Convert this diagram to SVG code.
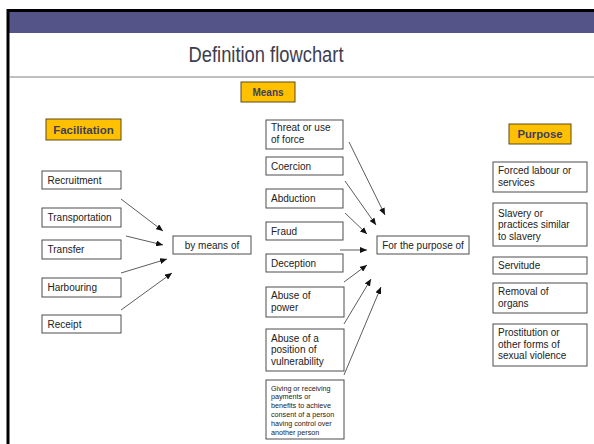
<svg xmlns="http://www.w3.org/2000/svg" width="594" height="444" viewBox="0 0 594 444">
<defs>
<style>
.box{fill:#fff;stroke:#4d4d4d;stroke-width:1}
.hdr{fill:#ffc000;stroke:#5a4a1a;stroke-width:1}
.t{font-family:"Liberation Sans",Arial,sans-serif;font-size:10px;fill:#222}
.s{font-family:"Liberation Sans",Arial,sans-serif;font-size:7.2px;fill:#222}
.h{font-family:"Liberation Sans",Arial,sans-serif;font-weight:bold;fill:#3f3f5c;text-anchor:middle}
.c{text-anchor:middle}
.ln{stroke:#333;stroke-width:0.8;fill:none;marker-end:url(#ah)}
</style>
<marker id="ah" markerUnits="userSpaceOnUse" markerWidth="8" markerHeight="6" refX="7" refY="3" orient="auto">
<path d="M0,0 L7,3 L0,6 z" fill="#111"/>
</marker>
</defs>
<rect x="0" y="0" width="594" height="444" fill="#fff"/>
<rect x="9" y="12" width="585" height="21" fill="#545489"/>
<path d="M8 444 V10.5 H594" fill="none" stroke="#000" stroke-width="3"/>
<line x1="9.5" y1="77" x2="594" y2="77" stroke="#808080" stroke-width="1"/>
<text x="266" y="62" font-family="'Liberation Sans',Arial,sans-serif" font-size="22.5" fill="#3d3d50" text-anchor="middle" textLength="155" lengthAdjust="spacingAndGlyphs">Definition flowchart</text>

<g id="means-hdr"><rect class="hdr" x="241" y="82" width="54" height="20"/><text class="h" x="268" y="95.5" font-size="10">Means</text></g>
<g id="facilitation-hdr"><rect class="hdr" x="46" y="119" width="75" height="21"/><text class="h" x="83.5" y="133.5" font-size="11.5">Facilitation</text></g>
<g id="purpose-hdr"><rect class="hdr" x="509" y="124" width="62" height="20"/><text class="h" x="540" y="138" font-size="11.3">Purpose</text></g>

<g id="recruitment"><rect class="box" x="42" y="171" width="79" height="18"/><text class="t" x="47.5" y="183.5">Recruitment</text></g>
<g id="transportation"><rect class="box" x="42" y="208" width="79" height="19"/><text class="t" x="47.5" y="221">Transportation</text></g>
<g id="transfer"><rect class="box" x="42" y="240" width="79" height="19"/><text class="t" x="47.5" y="253">Transfer</text></g>
<g id="harbouring"><rect class="box" x="42" y="278" width="79" height="19"/><text class="t" x="47.5" y="291">Harbouring</text></g>
<g id="receipt"><rect class="box" x="42" y="315" width="79" height="18"/><text class="t" x="47.5" y="327.5">Receipt</text></g>

<g id="by-means-of"><rect class="box" x="173" y="236" width="78" height="18"/><text class="t c" x="212" y="248.5">by means of</text></g>

<g id="threat"><rect class="box" x="266" y="120" width="77" height="29"/><text class="t" x="271" y="131">Threat or use</text><text class="t" x="271" y="143">of force</text></g>
<g id="coercion"><rect class="box" x="266" y="157" width="77" height="18"/><text class="t" x="271" y="169.5">Coercion</text></g>
<g id="abduction"><rect class="box" x="266" y="189" width="77" height="19"/><text class="t" x="271" y="202">Abduction</text></g>
<g id="fraud"><rect class="box" x="266" y="222" width="77" height="18"/><text class="t" x="271" y="234.5">Fraud</text></g>
<g id="deception"><rect class="box" x="266" y="254" width="77" height="18"/><text class="t" x="271" y="266.5">Deception</text></g>
<g id="abuse-power"><rect class="box" x="266" y="287" width="78" height="30"/><text class="t" x="271" y="299">Abuse of</text><text class="t" x="271" y="311">power</text></g>
<g id="abuse-position"><rect class="box" x="266" y="329" width="78" height="42"/><text class="t" x="271" y="341.5">Abuse of a</text><text class="t" x="271" y="353.3">position of</text><text class="t" x="271" y="365">vulnerability</text></g>
<g id="giving"><rect class="box" x="266" y="380" width="78" height="59"/>
<text class="s" x="271" y="390.5">Giving or receiving</text><text class="s" x="271" y="399.3">payments or</text><text class="s" x="271" y="408.1">benefits to achieve</text><text class="s" x="271" y="416.9">consent of a person</text><text class="s" x="271" y="425.7">having control over</text><text class="s" x="271" y="434.5">another person</text></g>

<g id="for-the-purpose-of"><rect class="box" x="377" y="236" width="92" height="18"/><text class="t c" x="423" y="248.5">For the purpose of</text></g>

<g id="forced-labour"><rect class="box" x="493" y="162" width="94" height="30"/><text class="t" x="498" y="174">Forced labour or</text><text class="t" x="498" y="185.5">services</text></g>
<g id="slavery"><rect class="box" x="493" y="203" width="94" height="43"/><text class="t" x="498" y="216.5">Slavery or</text><text class="t" x="498" y="228">practices similar</text><text class="t" x="498" y="239.5">to slavery</text></g>
<g id="servitude"><rect class="box" x="493" y="257" width="94" height="17"/><text class="t" x="498" y="269">Servitude</text></g>
<g id="removal"><rect class="box" x="493" y="283" width="94" height="30"/><text class="t" x="498" y="295">Removal of</text><text class="t" x="498" y="306.5">organs</text></g>
<g id="prostitution"><rect class="box" x="493" y="324" width="94" height="42"/><text class="t" x="498" y="336">Prostitution or</text><text class="t" x="498" y="347.5">other forms of</text><text class="t" x="498" y="359">sexual violence</text></g>

<g id="connectors">
<line class="ln" x1="121" y1="199" x2="163" y2="231"/>
<line class="ln" x1="126" y1="236" x2="163" y2="245"/>
<line class="ln" x1="121" y1="273" x2="167" y2="259"/>
<line class="ln" x1="121" y1="310" x2="172" y2="273"/>
<line class="ln" x1="349" y1="142" x2="385" y2="215"/>
<line class="ln" x1="345" y1="181" x2="376" y2="225"/>
<line class="ln" x1="345" y1="213" x2="367" y2="234"/>
<line class="ln" x1="340" y1="250" x2="367" y2="250"/>
<line class="ln" x1="344" y1="282" x2="367" y2="265"/>
<line class="ln" x1="344" y1="324" x2="371" y2="279"/>
<line class="ln" x1="344" y1="375" x2="381" y2="287"/>
</g>
</svg>
